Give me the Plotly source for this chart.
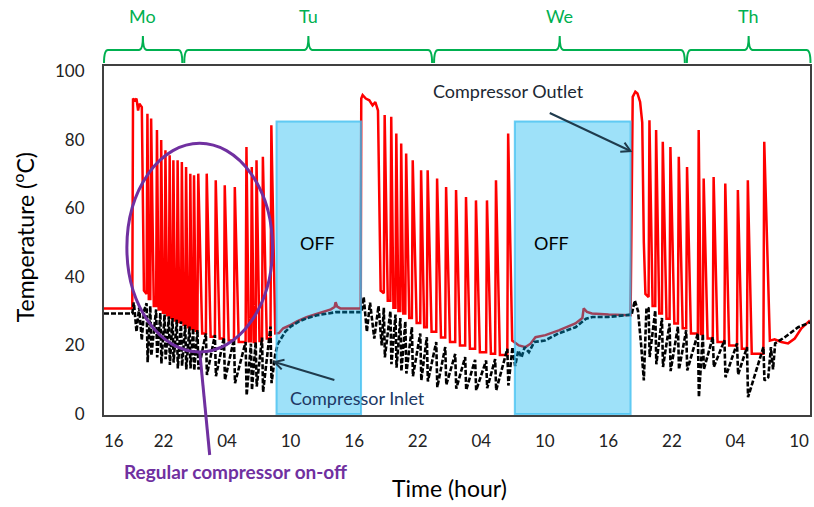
import plotly.graph_objects as go

# ---------------- axis ticks ----------------
tick_hours = [17.3, 22, 28, 34, 40, 46, 52, 58, 64, 70, 76, 82]   # hours since Monday 00:00
tick_labels = ["16", "22", "04", "10", "16", "22", "04", "10", "16", "22", "04", "10"]
temp_ticks = [0, 20, 40, 60, 80, 100]

# ---------------- compressor outlet (red) ----------------
# explicit stretches (idle / long first run of each period)
outlet_a_hold_h = [16.38, 19.05, 19.12, 19.3, 19.45, 19.6, 19.72, 19.95, 20.15]
outlet_a_hold_t = [30.8, 30.8, 92.0, 91.5, 92.0, 88.5, 90.5, 89.5, 36.0]
# on/off cycles: start hour, peak temperature, temperature just before start
cycle_a_h = [20.4, 20.75, 21.3, 21.7, 22.1, 22.5, 22.85, 23.25, 23.65, 24.05, 24.45,
             24.8, 25.2, 26.0, 26.85, 27.7, 28.65, 29.75, 30.25, 30.7, 31.3, 32.1]
outlet_a_peak = [87.6, 86.2, 82.8, 79.9, 76.9, 75.5, 74.0, 74.0, 73.5, 72.0, 70.1,
                 69.6, 70.1, 70.1, 68.2, 66.7, 66.2, 77.9, 72.0, 74.0, 75.0, 84.2]
outlet_a_low = [35.0, 33.5, 31.5, 30.5, 29.5, 28.8, 28.0, 27.3, 26.8, 26.0, 25.3,
                24.8, 24.3, 23.5, 22.5, 22.0, 21.4, 21.0, 21.2, 21.0, 21.3, 22.0]

outlet_off1_h = [32.55, 32.9, 33.3, 33.9, 34.6, 35.5, 36.3, 37.0, 37.8, 38.15, 38.25, 38.4, 38.7, 40.62]
outlet_off1_t = [23.5, 23.6, 25.0, 25.8, 27.0, 28.2, 29.0, 29.7, 30.5, 31.2, 32.6, 31.3, 30.8, 30.8]

outlet_b_hold_h = [40.67, 40.8, 41.1, 41.43, 41.74, 42.0, 42.25, 42.5]
outlet_b_hold_t = [92.0, 93.0, 92.0, 91.5, 90.0, 91.0, 88.5, 36.0]
cycle_b_h = [42.8, 43.42, 43.9, 44.36, 44.83, 45.45, 46.24, 46.86, 47.75, 48.6, 49.54,
             50.48, 51.42, 52.46, 53.31, 54.46]
outlet_b_peak = [87.2, 86.7, 81.8, 78.9, 76.0, 74.0, 71.1, 71.1, 68.7, 66.2, 65.3,
                 63.3, 62.3, 62.3, 68.2, 81.8]
outlet_b_low = [35.2, 33.0, 31.0, 30.0, 29.3, 28.0, 26.5, 25.3, 24.0, 22.3, 21.0,
                20.0, 19.0, 18.0, 17.6, 17.2]

outlet_off2_h = [54.92, 55.55, 56.18, 56.65, 57.12, 58.06, 59.32, 60.89, 61.55, 61.67, 61.98, 62.45, 64.02, 66.07]
outlet_off2_t = [21.4, 20.0, 19.5, 20.5, 22.4, 23.0, 24.4, 26.4, 28.0, 30.8, 29.8, 29.3, 29.0, 28.8]

outlet_c_hold_h = [66.1, 66.3, 66.55, 66.75, 67.0, 67.2, 67.35, 67.5]
outlet_c_hold_t = [28.8, 92.5, 94.0, 93.5, 91.0, 85.0, 50.0, 35.0]
cycle_c_h = [67.8, 68.43, 69.06, 69.78, 70.57, 71.35, 72.45, 72.92, 73.86, 74.96,
             76.15, 77.09, 78.64]
outlet_c_peak = [85.7, 82.8, 79.4, 77.9, 75.0, 72.0, 82.8, 68.7, 69.1, 67.2, 65.3, 68.2, 79.4]
outlet_c_low = [34.1, 31.5, 29.3, 27.8, 26.4, 25.0, 23.5, 23.3, 22.0, 21.0, 20.0, 19.0, 17.6]

outlet_end_h = [79.25, 79.7, 80.34, 80.97, 81.6, 82.23, 82.86, 83.04]
outlet_end_t = [21.4, 21.8, 21.0, 20.6, 22.0, 25.0, 26.8, 27.3]

# ---------------- compressor inlet (black dashed) ----------------
inlet_a_hold_h = [16.38, 19.05, 19.2, 19.45, 19.7, 19.95, 20.15]
inlet_a_hold_t = [29.3, 29.3, 32.5, 24.0, 31.0, 21.5, 30.0]
inlet_a_high = [32.3, 31.5, 30.5, 29.5, 29.0, 28.5, 28.0, 27.5, 27.0, 26.0, 25.5,
                25.0, 24.5, 23.5, 23.0, 22.3, 21.8, 21.0, 20.5, 21.0, 22.3, 25.5]
inlet_a_low = [15.1, 17.0, 16.5, 14.7, 16.0, 14.3, 15.0, 13.3, 14.0, 13.0, 13.3,
               12.7, 13.0, 11.4, 11.0, 9.9, 9.0, 5.4, 7.0, 8.0, 6.4, 9.0]

inlet_off1_h = [32.55, 32.8, 33.1, 33.5, 34.0, 34.8, 35.6, 36.5, 37.5, 38.3, 40.62]
inlet_off1_t = [17.5, 20.5, 22.0, 24.0, 25.5, 27.0, 28.0, 28.8, 29.3, 29.7, 29.7]

inlet_b_hold_h = [40.7, 40.9, 41.2, 41.5, 41.9, 42.3, 42.6]
inlet_b_hold_t = [29.7, 34.1, 24.0, 32.5, 22.0, 31.5, 20.0]
inlet_b_high = [31.0, 30.0, 29.0, 28.0, 27.0, 25.3, 23.5, 22.4, 21.0, 19.5, 17.5,
                16.6, 15.8, 15.6, 16.0, 19.0]
inlet_b_low = [16.5, 14.5, 13.5, 12.5, 11.8, 11.0, 9.8, 9.5, 7.8, 8.5, 7.4,
               7.0, 6.9, 7.5, 6.9, 8.3]

inlet_off2_h = [54.95, 55.2, 55.5, 55.8, 56.1, 56.5, 57.0, 58.0, 59.3, 60.9, 61.9, 62.5, 64.0, 66.07]
inlet_off2_t = [19.5, 14.0, 18.5, 16.5, 19.5, 18.0, 21.0, 21.4, 23.5, 25.3, 27.8, 28.3, 28.3, 28.8]

inlet_c_hold_h = [66.2, 66.5, 66.8, 67.1, 67.35, 67.6]
inlet_c_hold_t = [29.0, 33.1, 30.0, 20.0, 9.8, 31.0]
inlet_c_high = [30.8, 30.2, 28.0, 26.4, 25.5, 24.4, 23.5, 23.3, 22.4, 21.5, 20.6, 19.5, 19.5]
inlet_c_low = [16.6, 14.5, 13.7, 12.5, 13.0, 12.7, 4.9, 13.0, 13.7, 10.7, 11.5, 4.9, 9.8]

inlet_end_h = [79.1, 79.35, 79.55, 79.75, 80.66, 81.92, 83.04]
inlet_end_t = [10.7, 19.5, 13.0, 20.6, 22.4, 25.3, 26.7]

# compressor-off periods (hours)
off_start = [32.67, 55.17]
off_end = [40.65, 66.1]
off_top = 85.3


def outlet_path(hours, lows, peaks, rise=0.08):
    """Needle per cycle: rise to the peak, fall back to the next cycle's low, hold."""
    xs, ys = [], []
    n = len(hours)
    for i in range(n):
        xs += [hours[i], hours[i] + rise]
        ys += [lows[i], peaks[i]]
        if i + 1 < n:
            gap = hours[i + 1] - hours[i]
            xs.append(hours[i] + min(0.45, 0.6 * gap))
            ys.append(lows[i + 1])
    return xs, ys


def inlet_path(hours, highs, lows, dip=0.10):
    xs, ys = [], []
    for h, a, b in zip(hours, highs, lows):
        xs += [h, h + dip]
        ys += [a, b]
    return xs, ys


ca_x, ca_y = outlet_path(cycle_a_h, outlet_a_low, outlet_a_peak)
cb_x, cb_y = outlet_path(cycle_b_h, outlet_b_low, outlet_b_peak)
cc_x, cc_y = outlet_path(cycle_c_h, outlet_c_low, outlet_c_peak)
outlet_x = (outlet_a_hold_h + ca_x + outlet_off1_h + outlet_b_hold_h + cb_x +
            outlet_off2_h + outlet_c_hold_h + cc_x + outlet_end_h)
outlet_y = (outlet_a_hold_t + ca_y + outlet_off1_t + outlet_b_hold_t + cb_y +
            outlet_off2_t + outlet_c_hold_t + cc_y + outlet_end_t)

ia_x, ia_y = inlet_path(cycle_a_h, inlet_a_high, inlet_a_low)
ib_x, ib_y = inlet_path(cycle_b_h, inlet_b_high, inlet_b_low)
ic_x, ic_y = inlet_path(cycle_c_h, inlet_c_high, inlet_c_low)
inlet_x = (inlet_a_hold_h + ia_x + inlet_off1_h + inlet_b_hold_h + ib_x +
           inlet_off2_h + inlet_c_hold_h + ic_x + inlet_end_h)
inlet_y = (inlet_a_hold_t + ia_y + inlet_off1_t + inlet_b_hold_t + ib_y +
           inlet_off2_t + inlet_c_hold_t + ic_y + inlet_end_t)

FONT = "Lato, 'Noto Sans', sans-serif"
ARROW = "#1f3b4d"

fig = go.Figure()
fig.add_trace(go.Scatter(x=outlet_x, y=outlet_y, mode="lines", name="Compressor Outlet",
                         line=dict(color="#ff0000", width=2.5)))
fig.add_trace(go.Scatter(x=inlet_x, y=inlet_y, mode="lines", name="Compressor Inlet",
                         line=dict(color="#000000", width=2.6, dash="5px,2px")))

shapes = []
for x0, x1 in zip(off_start, off_end):
    shapes.append(dict(type="rect", xref="x", yref="y", x0=x0, x1=x1, y0=0, y1=off_top,
                       fillcolor="rgba(0,176,240,0.38)",
                       line=dict(color="rgba(60,190,240,0.75)", width=2), layer="above"))

# purple ellipse + pointer
shapes.append(dict(type="circle", xref="x", yref="y", x0=18.54, x1=32.29, y0=18.1, y1=78.95,
                   line=dict(color="#7030a0", width=3), layer="above"))
shapes.append(dict(type="line", xref="paper", yref="paper", x0=0.1356, y0=0.1805,
                   x1=0.1497, y1=-0.1146, line=dict(color="#7030a0", width=3), layer="above"))

# pointer arrows (paper coordinates): shaft + open head
arrows = [
    ((0.6314, 0.8653), (0.7458, 0.7564), (0.7312, 0.7544), (0.7373, 0.7805)),   # outlet
    ((0.3263, 0.1003), (0.2415, 0.1519), (0.2557, 0.1582), (0.2517, 0.1306)),   # inlet
]
for tail, head, p1, p2 in arrows:
    shapes.append(dict(type="line", xref="paper", yref="paper", x0=tail[0], y0=tail[1],
                       x1=head[0], y1=head[1], line=dict(color=ARROW, width=2), layer="above"))
    shapes.append(dict(type="path", xref="paper", yref="paper",
                       path=f"M {p1[0]},{p1[1]} L {head[0]},{head[1]} L {p2[0]},{p2[1]}",
                       line=dict(color=ARROW, width=2), layer="above"))

# day braces
yl, ye, yt, rx = 1.0458, 1.0086, 1.0860, 0.0056
braces = [(0.0, 0.0551, 0.1109, "Mo"), (0.1137, 0.2895, 0.4647, "Tu"),
          (0.4675, 0.6455, 0.8227, "We"), (0.8256, 0.9131, 1.0007, "Th")]
annotations = []


def note(**kw):
    kw.setdefault("xanchor", "center")
    kw.setdefault("yanchor", "middle")
    kw.setdefault("showarrow", False)
    annotations.append(kw)


for xa, xm, xb, lab in braces:
    path = (f"M {xa},{ye} Q {xa},{yl} {xa+rx},{yl} L {xm-rx},{yl} "
            f"Q {xm},{yl} {xm},{yt} Q {xm},{yl} {xm+rx},{yl} "
            f"L {xb-rx},{yl} Q {xb},{yl} {xb},{ye}")
    shapes.append(dict(type="path", xref="paper", yref="paper", path=path,
                       line=dict(color="#00b050", width=2)))
    note(xref="paper", yref="paper", x=xm, y=1.143, text=lab,
         font=dict(family=FONT, size=18, color="#00b050"))

# labels
for xc in [36.53, 58.66]:
    note(x=xc, y=49.8, text="OFF", font=dict(family=FONT, size=18, color="#000000"))
note(x=54.61, y=94.2, text="Compressor Outlet",
     font=dict(family=FONT, size=18, color="#1c2833"))
note(x=40.3, y=4.66, text="Compressor Inlet",
     font=dict(family=FONT, size=18, color="#203864"))
note(xref="paper", yref="paper", x=0.1864, y=-0.1633,
     text="<b>Regular compressor on-off</b>",
     font=dict(family=FONT, size=19, color="#7030a0"))
note(xref="paper", yref="paper", x=0.4887, y=-0.2092, text="Time (hour)",
     font=dict(family=FONT, size=23, color="#000000"))
note(xref="paper", yref="paper", x=-0.1144, y=0.51,
     text="Temperature (<sup>o</sup>C)", textangle=-90,
     font=dict(family=FONT, size=23, color="#000000"))

fig.update_layout(
    width=814, height=507,
    margin=dict(l=104, r=2, t=66, b=92),
    plot_bgcolor="white", paper_bgcolor="white",
    showlegend=False,
    shapes=shapes, annotations=annotations,
    font=dict(family=FONT),
)
fig.update_xaxes(range=[16.38, 83.04], tickvals=tick_hours, ticktext=tick_labels,
                 showgrid=False, zeroline=False, showline=True, mirror=True,
                 linecolor="#404040", linewidth=2, ticks="", ticklabelstandoff=10,
                 tickfont=dict(family=FONT, size=17, color="#222222"))
fig.update_yaxes(range=[-0.3, 101.5], tickvals=temp_ticks,
                 showgrid=False, zeroline=False, showline=True, mirror=True,
                 linecolor="#404040", linewidth=2, ticks="", ticklabelstandoff=14,
                 tickfont=dict(family=FONT, size=17, color="#222222"))

fig.write_html("out.html")
